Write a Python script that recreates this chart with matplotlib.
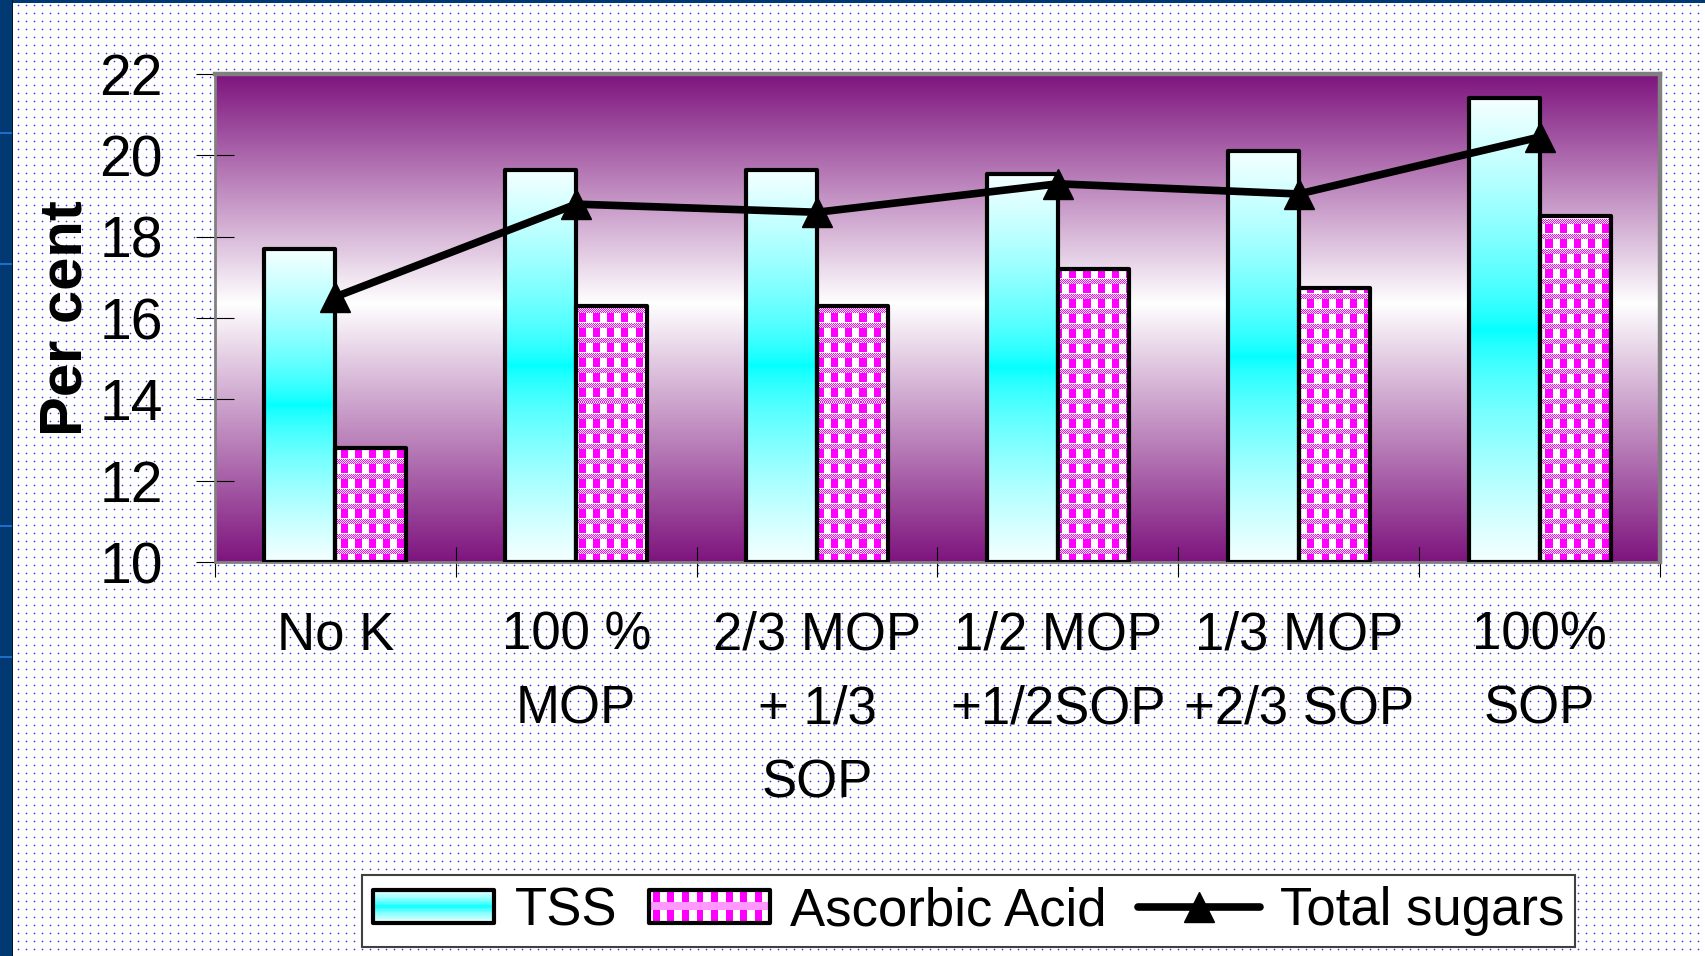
import numpy as np
import matplotlib
matplotlib.use("Agg")
import matplotlib.pyplot as plt
from matplotlib.patches import Rectangle
from matplotlib.legend_handler import HandlerBase

# ---------------- data ----------------
categories = ["No K", "100 %\nMOP", "2/3 MOP\n+ 1/3\nSOP", "1/2 MOP\n+1/2SOP",
              "1/3 MOP\n+2/3 SOP", "100%\nSOP"]
tss = [17.7, 19.65, 19.65, 19.55, 20.1, 21.4]
ascorbic_acid = [12.8, 16.3, 16.3, 17.2, 16.75, 18.5]
total_sugars = [16.52, 18.8, 18.6, 19.3, 19.05, 20.45]
series_names = ["TSS", "Ascorbic Acid", "Total sugars"]
y_ticks = [10, 12, 14, 16, 18, 20, 22]
y_min, y_max = 10, 22

plt.rcParams["font.family"] = ["Liberation Sans", "DejaVu Sans"]

W, H = 1706, 956
fig = plt.figure(figsize=(W / 100, H / 100), dpi=100)

# ---------------- slide background (dotted texture) ----------------
bg = np.ones((H, W, 3))
yy = np.arange(5, H - 2, 8)
xx = np.arange(18, W - 2, 8)
halo = np.array([200, 200, 255]) / 255
for dy, dx in ((-1, 0), (1, 0), (0, -1), (0, 1)):
    bg[np.ix_(yy + dy, xx + dx)] = halo
bg[np.ix_(yy, xx)] = np.array([45, 45, 245]) / 255
navy = np.array([1, 58, 115]) / 255
bg[:, :12] = navy
bg[:3, :] = navy
bg[:, 12] = np.array([10, 20, 45]) / 255
for ly in (132, 263, 525, 656):
    bg[ly:ly + 2, :12] = np.array([30, 110, 200]) / 255
fig.figimage(bg, xo=0, yo=0, origin="upper", zorder=-10)

# ---------------- axes ----------------
ax = fig.add_axes([215 / W, (H - 562) / H, (1660 - 215) / W, (562 - 74) / H])
ax.set_zorder(1)
ax.set_facecolor("none")
n = len(categories)
x = np.arange(n)
xlim = (-0.5, n - 0.5)

# plot-area gradient: purple -> white -> purple
purple = np.array([126, 20, 126]) / 255
white = np.ones(3)
t = np.linspace(0, 1, 500)
tc = 0.53
mix = np.where(t < tc, (tc - t) / tc, (t - tc) / (1 - tc))
grad = white[None, :] + mix[:, None] * (purple - white)[None, :]
ax.imshow(grad[:, None, :], extent=(xlim[0], xlim[1], y_min, y_max), origin="lower",
          aspect="auto", interpolation="bilinear", zorder=0)

w = 0.295
edge_lw = 3.0

# TSS bars: white-cyan-white vertical gradient
s = np.linspace(0, 1, 300)
d = np.abs(s - 0.5) * 2
r = 245 * d ** 0.7
cyan_grad = np.stack([r / 255, np.ones_like(r), np.ones_like(r)], axis=1)

tss_bars = ax.bar(x - w / 2, np.array(tss) - y_min, w, bottom=y_min, facecolor="none",
                  edgecolor="black", linewidth=edge_lw, joinstyle="round", zorder=3)
for patch in tss_bars.patches:
    x0 = patch.get_x()
    ax.imshow(cyan_grad[:, None, :], extent=(x0, x0 + patch.get_width(), y_min,
              y_min + patch.get_height()), origin="lower", aspect="auto",
              interpolation="bilinear", zorder=2)

# Ascorbic bars: magenta check pattern
mag = np.array([1.0, 0.0, 1.0])
tile = np.ones((15, 14, 3))
tile[0:9, 0:7] = mag
for rr in range(10, 15):
    for cc in range(14):
        if (rr + cc) % 2 == 0:
            tile[rr, cc] = mag
ph, pw = 488, 1445
pattern = np.tile(tile, (ph // 15 + 1, pw // 14 + 1, 1))[:ph, :pw]

asc_bars = ax.bar(x + w / 2, np.array(ascorbic_acid) - y_min, w, bottom=y_min,
                  facecolor="none", edgecolor="black", linewidth=edge_lw,
                  joinstyle="round", zorder=3)
for patch in asc_bars.patches:
    im = ax.imshow(pattern, extent=(xlim[0], xlim[1], y_min, y_max), origin="upper",
                   aspect="auto", interpolation="nearest", zorder=2)
    im.set_clip_path(patch)

line, = ax.plot(x, total_sugars, color="black", lw=5.5, marker="^", ms=22,
                mfc="black", mec="black", mew=1, zorder=4,
                solid_joinstyle="round", solid_capstyle="round")

ax.set_xlim(*xlim)
ax.set_ylim(y_min, y_max)

# y axis
ax.set_yticks(y_ticks)
ax.set_yticklabels([str(v) for v in y_ticks])
ax.tick_params(axis="y", direction="inout", length=27, width=0.8, color="black",
               pad=24, labelsize=41)

# x axis: ticks at category boundaries, labels at centres
ax.set_xticks(np.arange(xlim[0], xlim[1] + 0.01, 1.0))
ax.set_xticklabels([])
ax.tick_params(axis="x", which="major", direction="inout", length=21, width=0.8,
               color="black")
ax.set_xticks(x, categories, minor=True)
ax.tick_params(axis="x", which="minor", length=0, pad=35, labelsize=38)
for lbl in ax.get_xticklabels(minor=True):
    lbl.set_linespacing(1.62)

for side in ("top", "right"):
    ax.spines[side].set_color("#808080")
    ax.spines[side].set_linewidth(3.2)
for side in ("left", "bottom"):
    ax.spines[side].set_color("#808080")
    ax.spines[side].set_linewidth(2)

ax.set_ylabel("Per cent", fontsize=43, fontweight="bold")
ax.yaxis.set_label_coords((66 - 215) / 1445, 0.5)
ax.yaxis.label.set_va("center")


# ---------------- legend ----------------
class GradHandler(HandlerBase):
    def create_artists(self, legend, orig_handle, xdescent, ydescent, width, height,
                       fontsize, trans):
        arts = []
        k = 24
        for i in range(k):
            c = cyan_grad[int((i + 0.5) / k * (len(cyan_grad) - 1))]
            arts.append(Rectangle((-xdescent, -ydescent + i * height / k), width,
                                  height / k + 0.2, facecolor=c, edgecolor="none",
                                  transform=trans))
        arts.append(Rectangle((-xdescent, -ydescent), width, height, facecolor="none",
                              edgecolor="black", lw=edge_lw, joinstyle="round",
                              transform=trans))
        return arts


class PatternHandler(HandlerBase):
    def create_artists(self, legend, orig_handle, xdescent, ydescent, width, height,
                       fontsize, trans):
        arts = [Rectangle((-xdescent, -ydescent), width, height, facecolor="white",
                          edgecolor="none", transform=trans)]
        period = 10.5
        sw = 5.0
        xs = -xdescent + 3
        while xs < -xdescent + width - 1:
            arts.append(Rectangle((xs, -ydescent), min(sw, -xdescent + width - xs),
                                  height, facecolor=mag, edgecolor="none",
                                  transform=trans))
            xs += period
        arts.append(Rectangle((-xdescent, -ydescent + height * 0.38), width,
                              height * 0.24, facecolor="#ff99ff", edgecolor="none",
                              transform=trans))
        arts.append(Rectangle((-xdescent, -ydescent), width, height, facecolor="none",
                              edgecolor="black", lw=edge_lw, joinstyle="round",
                              transform=trans))
        return arts


leg = fig.legend([tss_bars, asc_bars, line], series_names, loc="center",
                 bbox_to_anchor=((357 + 1580) / 2 / W, 1 - 911 / H), ncol=3,
                 fontsize=38, frameon=True, fancybox=False, shadow=False,
                 edgecolor="#404040", facecolor="white", framealpha=1,
                 handlelength=2.3, handleheight=0.6, handletextpad=0.38,
                 columnspacing=0.6, borderpad=0.2,
                 handler_map={tss_bars: GradHandler(), asc_bars: PatternHandler()})
leg.get_frame().set_linewidth(1.5)

fig.savefig("out.png", dpi=100)
